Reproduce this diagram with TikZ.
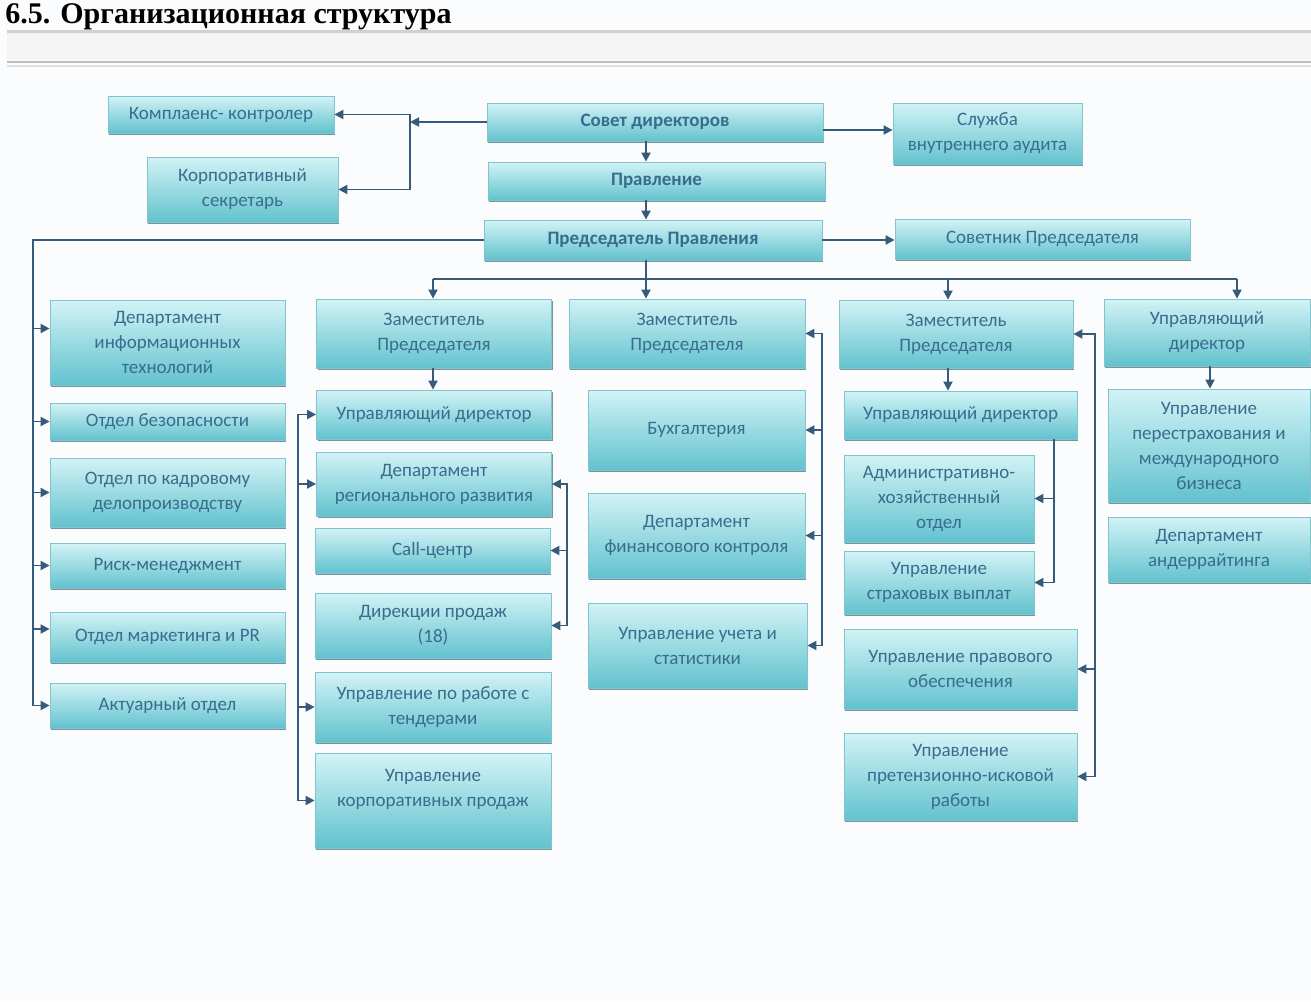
\documentclass[tikz,border=0pt]{standalone}
\usepackage{fontspec}
\setmainfont{Carlito}
\newfontfamily\titlefont{Liberation Serif}
\usetikzlibrary{shadows, arrows.meta}

\definecolor{boxtop}{RGB}{210,243,246}
\definecolor{boxmid}{RGB}{168,226,232}
\definecolor{boxbot}{RGB}{98,194,206}
\definecolor{boxedge}{RGB}{130,196,206}
\definecolor{boxshade}{RGB}{90,120,130}
\definecolor{txtblue}{RGB}{58,108,142}
\definecolor{linecol}{RGB}{55,90,120}
\definecolor{bgcol}{RGB}{250,252,253}

\tikzstyle{unit} = [rectangle, draw=boxedge, line width=0.4pt,
    top color=boxtop, middle color=boxmid, bottom color=boxbot,
    drop shadow={shadow xshift=0.7pt, shadow yshift=-1.1pt, fill=boxshade, opacity=0.8},
    text=txtblue, align=center, inner sep=2pt,
    font=\fontsize{9.5}{12.5}\selectfont]
\tikzstyle{head} = [unit, font=\bfseries\fontsize{9.5}{12.5}\selectfont]
\tikzstyle{arrow} = [line width=0.9pt, draw=linecol, ->, >={Triangle[length=4.5pt, width=4.5pt]}]
\tikzstyle{line} = [line width=0.9pt, draw=linecol]

\begin{document}
\begin{tikzpicture}[x=0.5pt, y=-0.5pt]

% Page
\useasboundingbox (0,0) rectangle (1311,1001);
\fill[bgcol] (0,0) rectangle (1311,1001);
\fill[black!18] (7,30) rectangle (1311,33);
\fill[black!4] (7,33) rectangle (1311,60);
\draw[black!25, line width=1pt] (7,62) -- (1311,62);
\draw[black!12, line width=1pt] (7,66) -- (1311,66);
\node (title) [anchor=base west, inner sep=0pt, font=\titlefont\bfseries\fontsize{15}{17}\selectfont]
    at (5,24) {6.5. Организационная структура};

% Nodes
\node (sovet) [head, minimum width=168pt, minimum height=19pt] at (655,122) {Совет директоров};
\node (komp) [unit, minimum width=113pt, minimum height=18.5pt] at (221,114.5) {Комплаенс- контролер};
\node (sekr) [unit, minimum width=95.5pt, minimum height=32.5pt] at (242.5,189.5) {Корпоративный\\секретарь};
\node (pravl) [head, minimum width=168.5pt, minimum height=19pt] at (656.5,181) {Правление};
\node (audit) [unit, minimum width=94.5pt, minimum height=30.5pt] at (987.5,133.5) {Служба\\внутреннего аудита};
\node (pred) [head, minimum width=169pt, minimum height=20pt] at (653,240) {Председатель Правления};
\node (sovetnik) [unit, minimum width=147.5pt, minimum height=20pt] at (1042.5,239) {Советник Председателя};

\node (it) [unit, minimum width=117.5pt, minimum height=42.5pt] at (167.5,342.5) {Департамент\\информационных\\технологий};
\node (bez) [unit, minimum width=117.5pt, minimum height=18.5pt] at (167.5,421.5) {Отдел безопасности};
\node (kadr) [unit, minimum width=117.5pt, minimum height=34.5pt] at (167.5,492.5) {Отдел по кадровому\\делопроизводству};
\node (risk) [unit, minimum width=117.5pt, minimum height=22.5pt] at (167.5,565.5) {Риск-менеджмент};
\node (mark) [unit, minimum width=117.5pt, minimum height=25pt] at (167.5,637) {Отдел маркетинга и PR};
\node (akt) [unit, minimum width=117.5pt, minimum height=22.5pt] at (167.5,705.5) {Актуарный отдел};

\node (zam1) [unit, minimum width=117.5pt, minimum height=34.5pt] at (434,333.5) {Заместитель\\Председателя};
\node (ud1) [unit, minimum width=117.5pt, minimum height=24.5pt] at (434,414.5) {Управляющий директор};
\node (reg) [unit, minimum width=117.5pt, minimum height=32pt] at (434,484) {Департамент\\регионального развития};
\node (call) [unit, minimum width=117.5pt, minimum height=22.5pt] at (432.5,550.5) {Call-центр};
\node (dir) [unit, minimum width=118pt, minimum height=32.5pt] at (433,625.5) {Дирекции продаж\\(18)};
\node (tend) [unit, minimum width=118pt, minimum height=35pt] at (433,707) {Управление по работе с\\тендерами};
\node (korp) [unit, minimum width=118pt, minimum height=47.5pt] at (433,800.5) {Управление\\корпоративных продаж\\\mbox{}};

\node (zam2) [unit, minimum width=118pt, minimum height=34.5pt] at (687,333.5) {Заместитель\\Председателя};
\node (buh) [unit, minimum width=108.5pt, minimum height=40pt] at (696.5,430) {Бухгалтерия};
\node (dfk) [unit, minimum width=108.5pt, minimum height=42.5pt] at (696.5,535.5) {Департамент\\финансового контроля};
\node (uus) [unit, minimum width=109.5pt, minimum height=42.5pt] at (697.5,645.5) {Управление учета и\\статистики};

\node (zam3) [unit, minimum width=117pt, minimum height=34pt] at (956,334) {Заместитель\\Председателя};
\node (ud2) [unit, minimum width=116.5pt, minimum height=24pt] at (960.5,415) {Управляющий директор};
\node (aho) [unit, minimum width=95pt, minimum height=43.5pt] at (939,498.5) {Административно-\\хозяйственный\\отдел};
\node (usv) [unit, minimum width=95pt, minimum height=31.5pt] at (939,582.5) {Управление\\страховых выплат};
\node (prav) [unit, minimum width=116.5pt, minimum height=40pt] at (960.5,669) {Управление правового\\обеспечения};
\node (pret) [unit, minimum width=116.5pt, minimum height=43.5pt] at (960.5,776.5) {Управление\\претензионно-исковой\\работы};

\node (ud3) [unit, minimum width=103pt, minimum height=33.5pt] at (1207,332.5) {Управляющий\\директор};
\node (perestr) [unit, minimum width=101pt, minimum height=56.5pt] at (1209,445.5) {Управление\\перестрахования и\\международного\\бизнеса};
\node (ander) [unit, minimum width=101pt, minimum height=32.5pt] at (1209,549.5) {Департамент\\андеррайтинга};

% Junctions
\coordinate (jl) at (410,122);
\coordinate (cx) at (646,0);
\coordinate (lb) at (33,0);
\coordinate (b1) at (433,279);
\coordinate (b2) at (646,279);
\coordinate (b3) at (948,279);
\coordinate (b4) at (1237,279);
\coordinate (lb2) at (298,0);
\coordinate (rb2) at (567,0);
\coordinate (rb3) at (822,0);
\coordinate (rb4) at (1095,0);
\coordinate (ib) at (1054,0);
\coordinate (b5) at (1210,0);
\coordinate (itin) at ([yshift=7pt]it.west);
\coordinate (markin) at ([yshift=4pt]mark.west);
\coordinate (auditin) at ([yshift=-4pt]sovet.east);

% Arrows
\draw [arrow] (sovet.west) -- (jl);
\draw [arrow] (jl) |- (komp.east);
\draw [arrow] (jl) |- (sekr.east);
\draw [arrow] (auditin) -- (auditin -| audit.west);
\draw [arrow] (sovet.south -| cx) -- (pravl.north -| cx);
\draw [arrow] (pravl.south -| cx) -- (pred.north -| cx);
\draw [arrow] (pred.east) -- (pred.east -| sovetnik.west);

\draw [arrow] (pred.west) -| (lb |- akt.west) -- (akt.west);
\draw [arrow] (lb |- itin) -- (itin);
\draw [arrow] (lb |- bez.west) -- (bez.west);
\draw [arrow] (lb |- kadr.west) -- (kadr.west);
\draw [arrow] (lb |- risk.west) -- (risk.west);
\draw [arrow] (lb |- markin) -- (markin);

\draw [arrow] (pred.south -| cx) -- (zam2.north -| cx);
\draw [line] (b1) -- (b4);
\draw [arrow] (b1) -- (zam1.north -| b1);
\draw [arrow] (b3) -- (zam3.north -| b3);
\draw [arrow] (b4) -- (ud3.north -| b4);

\draw [arrow] (zam1.south -| b1) -- (ud1.north -| b1);
\draw [arrow] (lb2 |- korp.west) |- (ud1.west);
\draw [arrow] (lb2 |- korp.west) -- (korp.west);
\draw [arrow] (lb2 |- reg.west) -- (reg.west);
\draw [arrow] (lb2 |- tend.west) -- (tend.west);
\draw [arrow] (rb2 |- dir.east) |- (reg.east);
\draw [arrow] (rb2 |- dir.east) -- (dir.east);
\draw [arrow] (rb2 |- call.east) -- (call.east);

\draw [arrow] (rb3 |- uus.east) |- (zam2.east);
\draw [arrow] (rb3 |- uus.east) -- (uus.east);
\draw [arrow] (rb3 |- buh.east) -- (buh.east);
\draw [arrow] (rb3 |- dfk.east) -- (dfk.east);

\draw [arrow] (zam3.south -| b3) -- (ud2.north -| b3);
\draw [arrow] (ud2.south -| ib) |- (usv.east);
\draw [arrow] (ib |- aho.east) -- (aho.east);
\draw [arrow] (rb4 |- pret.east) |- (zam3.east);
\draw [arrow] (rb4 |- pret.east) -- (pret.east);
\draw [arrow] (rb4 |- prav.east) -- (prav.east);

\draw [arrow] (ud3.south -| b5) -- (perestr.north -| b5);

\end{tikzpicture}
\end{document}
